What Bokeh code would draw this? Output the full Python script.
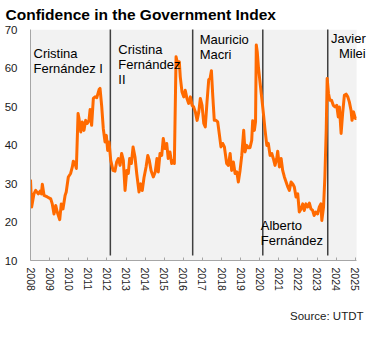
import math
from bokeh.plotting import figure
from bokeh.models import Range1d, FixedTicker, Label, ColumnDataSource, Title
from bokeh.embed import file_html
from bokeh.resources import INLINE

# ---- data ----
years = [2008.00, 2008.06, 2008.18, 2008.27, 2008.41, 2008.50, 2008.57, 2008.62, 2008.71, 2008.88,
         2009.06, 2009.14, 2009.23, 2009.32, 2009.40, 2009.53, 2009.61, 2009.70, 2009.81, 2009.87,
         2009.98, 2010.10, 2010.19, 2010.24, 2010.33, 2010.40, 2010.49, 2010.54, 2010.63, 2010.71,
         2010.80, 2010.89, 2010.97, 2011.06, 2011.12, 2011.20, 2011.29, 2011.38, 2011.47, 2011.59,
         2011.64, 2011.73, 2011.81, 2011.90, 2011.97, 2012.04, 2012.11, 2012.20, 2012.32, 2012.42,
         2012.51, 2012.60, 2012.69, 2012.77, 2012.86, 2012.95, 2013.04, 2013.12, 2013.19, 2013.28,
         2013.37, 2013.47, 2013.56, 2013.68, 2013.77, 2013.85, 2013.94, 2014.05, 2014.14, 2014.22,
         2014.31, 2014.43, 2014.53, 2014.62, 2014.69, 2014.78, 2014.87, 2014.95, 2015.04, 2015.13,
         2015.21, 2015.30, 2015.39, 2015.48, 2015.53, 2015.62, 2015.71, 2015.79, 2015.84, 2015.93,
         2016.02, 2016.10, 2016.19, 2016.28, 2016.37, 2016.46, 2016.54, 2016.63, 2016.72, 2016.81,
         2016.89, 2016.98, 2017.07, 2017.15, 2017.24, 2017.33, 2017.40, 2017.47, 2017.54, 2017.62,
         2017.71, 2017.80, 2017.88, 2017.97, 2018.06, 2018.15, 2018.27, 2018.36, 2018.45, 2018.53,
         2018.62, 2018.71, 2018.80, 2018.88, 2018.97, 2019.06, 2019.16, 2019.23, 2019.32, 2019.40,
         2019.49, 2019.58, 2019.63, 2019.72, 2019.78, 2019.82, 2019.87, 2019.93, 2020.02, 2020.12,
         2020.21, 2020.28, 2020.37, 2020.45, 2020.54, 2020.63, 2020.71, 2020.80, 2020.89, 2020.94,
         2021.03, 2021.12, 2021.20, 2021.29, 2021.38, 2021.47, 2021.55, 2021.64, 2021.73, 2021.81,
         2021.90, 2021.99, 2022.07, 2022.16, 2022.25, 2022.33, 2022.42, 2022.51, 2022.60, 2022.68,
         2022.77, 2022.85, 2022.94, 2023.03, 2023.12, 2023.20, 2023.25, 2023.34, 2023.41, 2023.48,
         2023.53, 2023.60, 2023.67, 2023.76, 2023.85, 2023.94, 2024.03, 2024.11, 2024.17, 2024.26,
         2024.34, 2024.43, 2024.52, 2024.61, 2024.69, 2024.78, 2024.83, 2024.91, 2025.00, 2025.06]

index_values = [31.0, 23.9, 27.3, 28.2, 27.3, 28.0, 27.3, 29.8, 26.9, 26.5,
                26.0, 24.7, 22.1, 24.3, 22.6, 20.6, 24.7, 23.4, 26.9, 27.8,
                31.7, 32.6, 34.3, 35.8, 35.2, 33.9, 48.2, 46.9, 43.4, 46.0,
                43.8, 46.4, 45.6, 46.3, 49.2, 45.1, 52.1, 52.5, 52.3, 54.4,
                54.7, 49.9, 44.3, 40.8, 42.5, 38.6, 40.8, 36.0, 33.4, 33.2,
                35.6, 36.5, 34.7, 37.8, 36.0, 28.2, 33.4, 32.6, 36.5, 35.2,
                39.5, 36.9, 32.6, 27.8, 29.9, 28.2, 31.5, 34.3, 37.3, 36.0,
                33.4, 31.7, 33.0, 36.5, 33.0, 37.8, 37.3, 41.7, 39.1, 40.4,
                36.5, 38.2, 35.2, 36.0, 35.2, 62.9, 60.8, 61.6, 57.7, 53.8,
                52.5, 54.2, 52.1, 50.8, 52.5, 50.3, 49.9, 48.6, 46.4, 48.6,
                52.1, 50.3, 45.6, 44.7, 51.2, 57.0, 57.3, 59.3, 52.9, 46.4,
                46.4, 46.0, 43.0, 39.5, 40.4, 39.5, 35.2, 34.7, 37.8, 33.4,
                35.6, 32.6, 33.0, 30.4, 33.4, 37.3, 43.8, 38.2, 39.9, 39.3,
                39.3, 41.2, 46.3, 43.8, 46.0, 66.0, 64.2, 60.3, 56.0, 51.6,
                47.3, 43.8, 39.9, 40.4, 37.3, 37.8, 36.5, 34.7, 36.5, 38.4,
                34.3, 36.5, 33.4, 31.7, 30.4, 29.1, 28.2, 30.4, 29.9, 29.1,
                26.5, 27.3, 22.6, 23.4, 24.7, 23.0, 24.7, 23.9, 24.9, 23.4,
                23.0, 21.7, 22.6, 22.1, 23.9, 24.7, 20.4, 23.9, 31.7, 43.8,
                57.3, 53.4, 51.6, 51.6, 50.3, 49.9, 50.3, 47.3, 49.9, 43.0,
                48.2, 52.9, 53.2, 52.5, 51.2, 49.0, 46.4, 48.6, 46.9, 46.9]

x_ticks = list(range(2008, 2026))
y_ticks = [10, 20, 30, 40, 50, 60, 70]

term_start_years = [2012.18, 2016.49, 2020.16, 2023.56]
term_names = ["Cristina\nFernández I", "Cristina\nFernández\nII", "Mauricio\nMacri",
              "Alberto\nFernández", "Javier\nMilei"]

# ---- layout constants (style) ----
FONT = "Liberation Sans"
X_START, X_DATA_END, X_VIEW_END = 2008.0, 2025.07, 2026.06
Y_MIN, Y_MAX = 10, 70

p = figure(width=375, height=337, output_backend="svg", toolbar_location=None,
           x_range=Range1d(X_START, X_VIEW_END), y_range=Range1d(Y_MIN, Y_MAX),
           min_border_left=30, min_border_right=0, min_border_top=29, min_border_bottom=77)
p.background_fill_color = "white"
p.border_fill_color = "white"
p.outline_line_color = None
p.xgrid.grid_line_color = None
p.ygrid.grid_line_color = None

# title
p.title.text = "Confidence in the Government Index"
p.title.text_font = FONT
p.title.text_font_size = "15.5px"
p.title.text_font_style = "bold"
p.title.text_color = "black"
p.title.align = "left"
p.title.vertical_align = "top"
p.title.text_line_height = 0.7
p.title.offset = -25
p.title.standoff = 10

# grey plotting area
p.quad(left=[X_START], right=[X_DATA_END], bottom=[Y_MIN], top=[Y_MAX],
       fill_color="#f2f2f2", line_color=None)

# axes
p.xaxis.bounds = (X_START, X_DATA_END)
p.xaxis.ticker = FixedTicker(ticks=x_ticks)
p.xaxis.minor_tick_line_color = None
p.xaxis.major_tick_in = 3
p.xaxis.major_tick_out = 0
p.xaxis.major_tick_line_color = "#a6a6a6"
p.xaxis.axis_line_color = "#a6a6a6"
p.xaxis.major_label_orientation = -math.pi / 2
p.xaxis.major_label_standoff = 7
p.xaxis.major_label_text_font = FONT
p.xaxis.major_label_text_font_size = "10.5px"
p.xaxis.major_label_text_color = "#1a1a1a"

p.yaxis.bounds = (Y_MIN, Y_MAX)
p.yaxis.ticker = FixedTicker(ticks=y_ticks)
p.yaxis.minor_tick_line_color = None
p.yaxis.major_tick_line_color = None
p.yaxis.major_tick_in = 0
p.yaxis.major_tick_out = 0
p.yaxis.axis_line_color = "#a6a6a6"
p.yaxis.major_label_standoff = 13
p.yaxis.major_label_text_font = FONT
p.yaxis.major_label_text_font_size = "11.5px"
p.yaxis.major_label_text_color = "#1a1a1a"

# term separator lines
LINE_BOTTOM = 11.3
LINE_TOP = 70.5
p.segment(x0=term_start_years, x1=term_start_years,
          y0=[LINE_BOTTOM] * len(term_start_years), y1=[LINE_TOP] * len(term_start_years),
          line_color="#404040", line_width=1.5)

# index line
src = ColumnDataSource(dict(x=years, y=index_values))
p.line("x", "y", source=src, line_color="#ff6a00", line_width=3, line_join="round")

# term labels
label_specs = [
    (term_names[0], X_START, 3, Y_MAX, -16.5, "left"),
    (term_names[1], term_start_years[0], 8, Y_MAX, -12.0, "left"),
    (term_names[2], term_start_years[1], 7, Y_MAX, -2.0, "left"),
    (term_names[3], term_start_years[2], -2, Y_MIN, 42.5, "left"),
    (term_names[4], term_start_years[3], 38, Y_MAX, -1.0, "right"),
]
for txt, xx, xo, yy, yo, al in label_specs:
    p.add_layout(Label(x=xx, y=yy, x_offset=xo, y_offset=yo, text=txt,
                       text_align=al, text_baseline="top", text_font=FONT,
                       text_font_size="13px", text_color="black", text_line_height=1.0))

# source note
src_title = Title(text="Source: UTDT", align="right", text_font=FONT,
                  text_font_size="11.5px", text_font_style="normal", text_color="#1a1a1a",
                  offset=12, standoff=28)
p.add_layout(src_title, "below")

open("out.html", "w").write(file_html(p, INLINE))
